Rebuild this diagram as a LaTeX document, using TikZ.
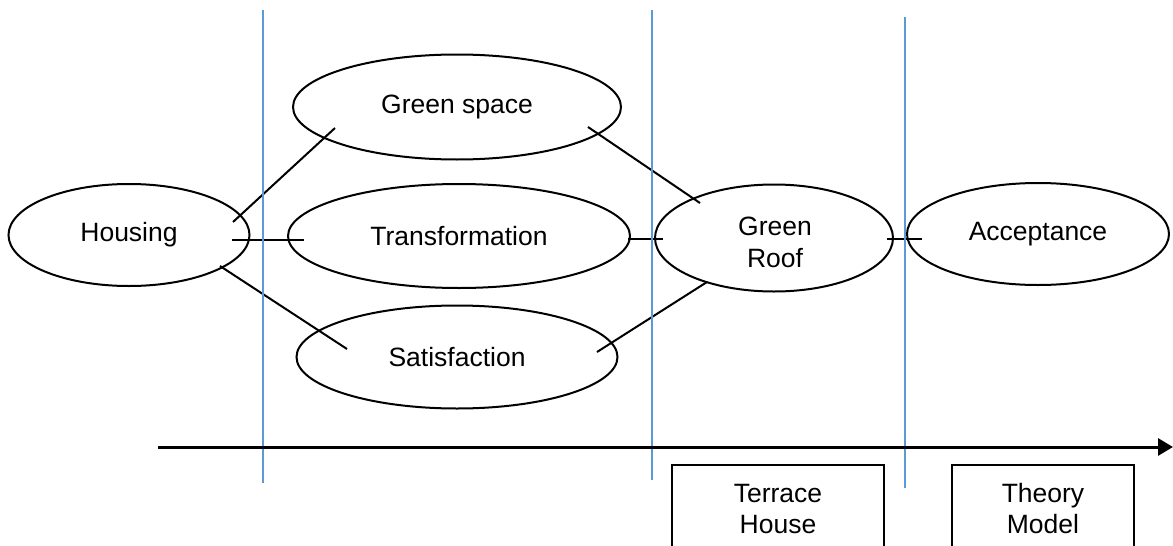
\documentclass[tikz,border=0pt]{standalone}
\usepackage{fontspec}
\setmainfont{Liberation Sans}
\usetikzlibrary{shapes.geometric,arrows.meta}
\definecolor{guide}{RGB}{91,155,213}

\begin{document}
\begin{tikzpicture}[
      x=1pt, y=-1pt,
      every node/.style={font=\fontsize{26.5}{31}\selectfont, align=center},
      oval/.style={draw, ellipse, line width=2pt, inner sep=0pt},
      link/.style={line width=2pt},
      sep/.style={guide, line width=1.2pt},
      box/.style={draw, rectangle, line width=2pt, inner sep=0pt},
      timeline/.style={line width=3pt,-{Triangle[length=15pt,width=17pt]}}
    ]
    \useasboundingbox (0,0) rectangle (1173,546);

    % Nodes for concepts
    \node (H) [oval, minimum width=241pt, minimum height=102pt] at (129,235) {Housing};
    \node (GS) [oval, minimum width=328pt, minimum height=105pt] at (457,107) {Green space};
    \node (T) [oval, minimum width=342pt, minimum height=104pt] at (459,236) {Transformation};
    \node (S) [oval, minimum width=321pt, minimum height=103pt] at (457,357) {Satisfaction};
    \node (GR) [oval, minimum width=238pt, minimum height=107pt] at (774,238) {};
    \node (A) [oval, minimum width=262pt, minimum height=102pt] at (1038,234) {Acceptance};
    \begin{scope}
      \clip (655,185) rectangle (893,268);
      \node (GRtxt) [font=\fontsize{26.5}{32}\selectfont] at (775,242) {Green\\Roof};
    \end{scope}

    % Nodes for stages
    \node (TH) [box, minimum width=212pt, minimum height=88pt] at (778,509) {Terrace\\House};
    \node (TM) [box, minimum width=182pt, minimum height=88pt] at (1043,509) {Theory\\Model};

    % Ends of the links
    \coordinate (h1) at (233,222);
    \coordinate (h2) at (232,240);
    \coordinate (h3) at (220,266);
    \coordinate (gs1) at (335,128);
    \coordinate (gs2) at (588,127);
    \coordinate (t1) at (304,240);
    \coordinate (t2) at (628,239);
    \coordinate (s1) at (347,349);
    \coordinate (s2) at (597,352);
    \coordinate (gr1) at (700,203);
    \coordinate (gr2) at (663,239);
    \coordinate (gr3) at (707,282);
    \coordinate (gr4) at (887,239);
    \coordinate (a1) at (922,239);

    % Links between concepts
    \draw[link] (h1) -- (gs1);
    \draw[link] (h2) -- (t1);
    \draw[link] (h3) -- (s1);
    \draw[link] (gs2) -- (gr1);
    \draw[link] (t2) -- (gr2);
    \draw[link] (s2) -- (gr3);
    \draw[link] (gr4) -- (a1);

    % Stage separators
    \coordinate (v1a) at (263,10);  \coordinate (v1b) at (263,483);
    \coordinate (v2a) at (652,10);  \coordinate (v2b) at (652,480);
    \coordinate (v3a) at (905,17);  \coordinate (v3b) at (905,488);
    \draw[sep] (v1a) -- (v1b);
    \draw[sep] (v2a) -- (v2b);
    \draw[sep] (v3a) -- (v3b);

    % Time line
    \coordinate (start) at (158,447);
    \coordinate (end) at (1173,447);
    \draw[timeline] (start) -- (end);

    \end{tikzpicture}
\end{document}
